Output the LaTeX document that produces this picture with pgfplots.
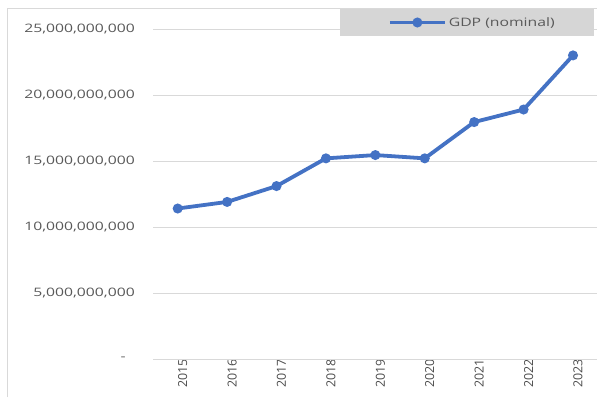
\documentclass[border=0pt]{standalone}
\usepackage{pgfplots}
\pgfplotsset{compat=1.18}
\usepackage{fontspec}
\setmainfont{Open Sans}[FakeStretch=1.35]
\newfontfamily\plainfont{Open Sans}
\definecolor{txt}{HTML}{595959}
\definecolor{grd}{HTML}{D9D9D9}
\definecolor{lgd}{HTML}{D6D6D6}
\definecolor{blu}{HTML}{4472C4}
\begin{document}
\begin{tikzpicture}[x=1bp,y=1bp]
\path[use as bounding box] (0,0) rectangle (597,397);
\draw[grd, line width=1bp] (7,0) -- (7,388) -- (597,388);
\begin{axis}[
  at={(153bp,38bp)}, anchor=south west,
  scale only axis, width=444.7bp, height=330bp,
  xmin=-0.5, xmax=8.5, ymin=0, ymax=25000000000,
  scaled y ticks=false,
  axis line style={draw=none},
  clip=false,
  xtick={0,...,8},
  xticklabels={2015,2016,2017,2018,2019,2020,2021,2022,2023},
  ytick={0,5000000000,10000000000,15000000000,20000000000,25000000000},
  yticklabels={{-\rule{9bp}{0pt}},{5,000,000,000},{10,000,000,000},{15,000,000,000},{20,000,000,000},{25,000,000,000}},
  major tick length=0,
  tick style={draw=none},
  ymajorgrids, grid style={grd, line width=0.8bp},
  xticklabel style={font=\plainfont\fontsize{12.5}{14}\selectfont, text=black!70, rotate=90, anchor=east, inner sep=0, yshift=-5bp},
  yticklabel style={font=\fontsize{11.7}{13}\selectfont, text=txt, anchor=east, inner sep=0, xshift=-18bp},
  legend style={at={(rel axis cs:0.528,1.0197)}, anchor=west, fill=none, draw=none,
    font=\fontsize{11.7}{13}\selectfont, text=txt, inner sep=0},
  legend image code/.code={
    \draw[#1, mark=none] (0bp,0bp) -- (55bp,0bp);
    \draw[#1, only marks] plot coordinates {(27.5bp,0bp)};
  },
]
\fill[lgd] (rel axis cs:0.421,0.9788) rectangle (rel axis cs:0.9910,1.0606);
\draw[grd, line width=1bp] (rel axis cs:0,0) -- (rel axis cs:1,0);
\addplot[blu, line width=3.8bp, mark=*, mark size=3bp, mark options={fill=blu, draw=blu}] coordinates {
(0,11400000000) (1,11900000000) (2,13100000000) (3,15200000000) (4,15450000000)
(5,15200000000) (6,17950000000) (7,18900000000) (8,23000000000)};
\addlegendentry{GDP (nominal)}
\end{axis}
\end{tikzpicture}
\end{document}
